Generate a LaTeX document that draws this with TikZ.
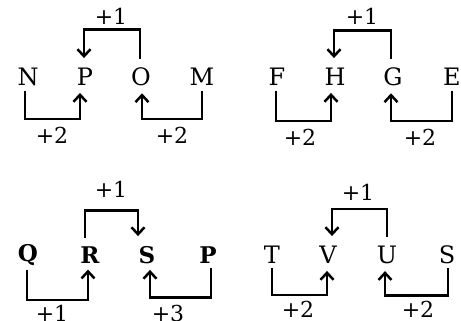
\documentclass[tikz,border=0pt]{standalone}
\usepackage{fontspec}
\setmainfont{DejaVu Serif}
\usetikzlibrary{arrows.meta}
\begin{document}
\begin{tikzpicture}[x=1pt,y=-1pt,
  letter/.style={inner sep=0pt,font=\fontsize{24}{30}\selectfont},
  bletter/.style={inner sep=0pt,font=\fontsize{23}{30}\selectfont\bfseries},
  lbl/.style={inner sep=0pt,font=\fontsize{22}{28}\selectfont},
  conn/.style={line width=2.5pt,line cap=butt,line join=miter},
  arr/.style={conn,-{Straight Barb[length=7pt,width=13pt,line width=2.5pt]}}]
\useasboundingbox (0,0) rectangle (461,321);
% group 1
\node[letter] (N) at (28,77) {N};
\node[letter] (P1) at (85,77) {P};
\node[letter] (O) at (141,77) {O};
\node[letter] (M) at (202,77) {M};
\draw[arr] ([xshift=-3pt,yshift=-5pt]N.south) -- ++(0,28) -| ([xshift=-5pt,yshift=-7pt]P1.south);
\draw[arr] ([yshift=-5pt]M.south) -- ++(0,28) -| ([xshift=1pt,yshift=-7pt]O.south);
\draw[arr] ([xshift=-1pt,yshift=9pt]O.north) -- ++(0,-29) -| ([xshift=-1pt,yshift=10pt]P1.north);
\node[lbl] (l1) at (111,16) {+1};
\node[lbl] (l2) at (52,135) {+2};
\node[lbl] (l3) at (172,135) {+2};
% group 2
\node[letter] (F) at (277,77) {F};
\node[letter] (H) at (335,77) {H};
\node[letter] (G) at (393,77) {G};
\node[letter] (E) at (452,77) {E};
\draw[arr] ([xshift=-1pt,yshift=-5pt]F.south) -- ++(0,30) -| ([xshift=-4pt,yshift=-7pt]H.south);
\draw[arr] ([yshift=-5pt]E.south) -- ++(0,30) -| ([xshift=-2pt,yshift=-7pt]G.south);
\draw[arr] ([xshift=-2pt,yshift=9pt]G.north) -- ++(0,-28) -| ([xshift=-1pt,yshift=10pt]H.north);
\node[lbl] (l4) at (362,16) {+1};
\node[lbl] (l5) at (300,137) {+2};
\node[lbl] (l6) at (420,137) {+2};
% group 3
\node[bletter] (Q) at (28,255) {Q};
\node[bletter] (R) at (90,255) {R};
\node[bletter] (S1) at (147,255) {S};
\node[bletter] (P2) at (208,255) {P};
\draw[arr] ([xshift=-1pt,yshift=-4pt]Q.south) -- ++(0,30) -| ([xshift=-2pt,yshift=-6pt]R.south);
\draw[arr] ([xshift=3pt,yshift=-4pt]P2.south) -- ++(0,30) -| ([xshift=3pt,yshift=-6pt]S1.south);
\draw[arr] ([xshift=-5pt,yshift=8pt]R.north) -- ++(0,-28) -| ([xshift=-9pt,yshift=10pt]S1.north);
\node[lbl] (l7) at (111,189) {+1};
\node[lbl] (l8) at (52,313) {+1};
\node[lbl] (l9) at (168,313) {+3};
% group 4
\node[letter] (T) at (272,255) {T};
\node[letter] (V) at (328,255) {V};
\node[letter] (U) at (387,255) {U};
\node[letter] (S2) at (447,255) {S};
\draw[arr] ([yshift=-4pt]T.south) -- ++(0,27) -| ([xshift=-1pt,yshift=-7pt]V.south);
\draw[arr] ([xshift=1pt,yshift=-4pt]S2.south) -- ++(0,27) -| ([xshift=-2pt,yshift=-7pt]U.south);
\draw[arr] ([yshift=9pt]U.north) -- ++(0,-28) -| ([xshift=4pt,yshift=10pt]V.north);
\node[lbl] (l10) at (358,192) {+1};
\node[lbl] (l11) at (298,309) {+2};
\node[lbl] (l12) at (418,309) {+2};
\end{tikzpicture}
\end{document}
